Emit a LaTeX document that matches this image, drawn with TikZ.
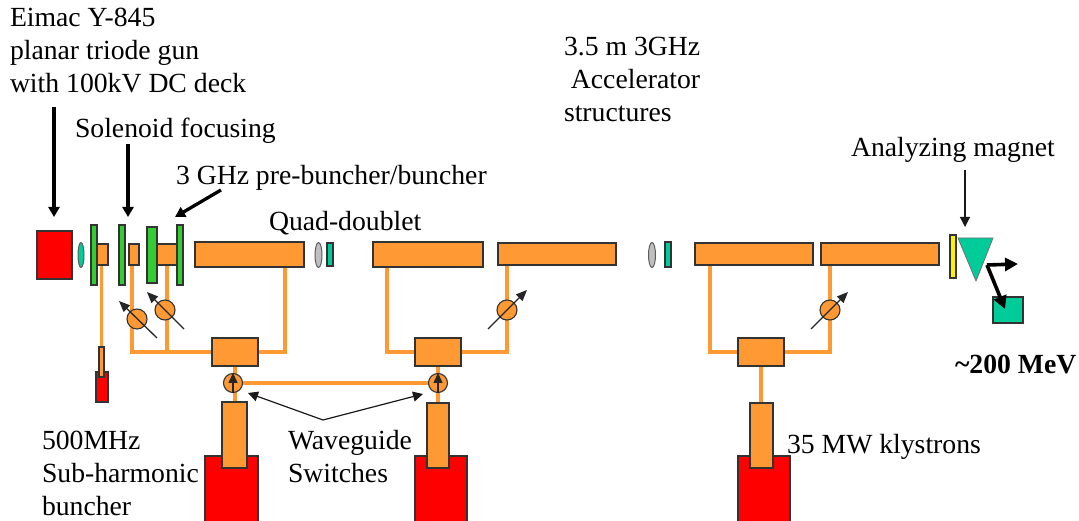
\documentclass[tikz,border=0pt]{standalone}
\usepackage{fontspec}
\setmainfont{Liberation Serif}
\usetikzlibrary{arrows.meta,calc,shapes.geometric}
\pgfdeclarelayer{bg}
\pgfsetlayers{bg,main}
\definecolor{wgorange}{HTML}{FF9933}
\definecolor{teal1}{HTML}{00CC99}
\definecolor{green1}{HTML}{33CC33}
\definecolor{edge1}{HTML}{333333}
\tikzset{
  part/.style={draw=edge1,line width=1.2pt,rectangle,inner sep=0pt,outer sep=0pt},
  orangebox/.style={part,fill=wgorange},
  redbox/.style={part,fill=red},
  greenbox/.style={part,fill=green1},
  tealbox/.style={part,fill=teal1},
  yellowbox/.style={part,fill=yellow},
  guide/.style={draw=wgorange,line width=3.4pt,line join=miter},
  lensg/.style={draw=edge1!80,line width=1pt,ellipse,fill=gray!50,inner sep=0pt,minimum width=7pt,minimum height=25pt},
  lenst/.style={draw=edge1!80,line width=1pt,ellipse,fill=teal1,inner sep=0pt,minimum width=6pt,minimum height=25pt},
  shifter/.style={draw=edge1,line width=1.1pt,circle,fill=wgorange,inner sep=0pt,minimum size=20pt},
  label/.style={inner sep=0pt,outer sep=0pt,align=left,font=\fontsize{27.7}{33}\selectfont,anchor=base west},
  adj/.style={-{Triangle[length=11pt,width=9pt]},draw=black!85,line width=1.3pt},
  swarrow/.style={-{Triangle[length=10pt,width=9pt]},draw=black!85,line width=1.3pt},
  call/.style={-{Triangle[length=10pt,width=10pt]},draw=black!90,line width=1.2pt},
  medcall/.style={-{Triangle[length=10pt,width=11pt]},draw=black,line width=3.3pt},
  bigcall/.style={-{Triangle[length=13pt,width=13pt]},draw=black,line width=3.6pt},
}
\newcommand{\bx}[6]{\node[#2,minimum width={(#5-#3)*1pt},minimum height={(#6-#4)*1pt}] (#1) at ({(#3+#5)/2},{(#4+#6)/2}) {};}
\begin{document}
\begin{tikzpicture}[x=1pt,y=-1pt]
\useasboundingbox (0,0) rectangle (1079,521);
% gun, lens
\bx{gun}{redbox}{37}{231}{72}{279}
\node[lenst] (lens0) at (81,255) {};
% short cavities and solenoids
\bx{cavA}{orangebox}{97}{244}{108}{265}
\bx{cavB}{orangebox}{129}{244}{139}{265}
\bx{cavC}{orangebox}{157}{244}{177}{265}
\bx{solA}{greenbox}{91}{225}{97}{285}
\bx{solB}{greenbox}{119}{225}{125}{285}
\bx{solC}{greenbox}{147}{227}{157}{283}
\bx{solD}{greenbox}{177}{225}{183}{285}
% accelerator structures
\bx{acc1}{orangebox}{195}{242}{304}{267}
\bx{acc2}{orangebox}{373}{242}{483}{267}
\bx{acc3}{orangebox}{498}{243}{616}{265}
\bx{acc4}{orangebox}{695}{243}{813}{265}
\bx{acc5}{orangebox}{821}{243}{939}{265}
% quads
\node[lensg] (qa1) at (318.5,255) {};
\bx{qa2}{tealbox}{327}{243}{333}{266}
\node[lensg] (qb1) at (652,255) {};
\bx{qb2}{tealbox}{665}{242}{671}{267}
% splitters
\bx{sp1}{orangebox}{212}{338}{258}{366}
\bx{sp2}{orangebox}{415}{338}{461}{366}
\bx{sp3}{orangebox}{738}{338}{784}{366}
% klystrons
\bx{red0}{redbox}{96}{372}{108}{402}
\bx{stub0}{orangebox}{99}{347}{104}{377}
\bx{kr1}{redbox}{205}{456}{258}{525}
\bx{kg1}{orangebox}{222}{402}{247}{468}
\bx{kr2}{redbox}{415}{456}{467}{525}
\bx{kg2}{orangebox}{427}{403}{449}{468}
\bx{kr3}{redbox}{738}{456}{790}{525}
\bx{kg3}{orangebox}{750}{403}{773}{468}
% guides
\begin{pgfonlayer}{bg}
\draw[guide] (stub0.north) -- (stub0.north |- cavA.south);
\draw[guide] ($(cavB.south)+(-2,0)$) |- (sp1.west);
\draw[guide] (cavC.south) -- (cavC.south |- sp1.west);
\draw[guide] ($(acc1.south east)+(-19,0)$) |- (sp1.east);
\draw[guide] ($(acc2.south west)+(14,0)$) |- (sp2.west);
\draw[guide] ($(acc3.south west)+(9,0)$) |- (sp2.east);
\draw[guide] ($(acc4.south west)+(15,0)$) |- (sp3.west);
\draw[guide] ($(acc5.south west)+(9,0)$) |- (sp3.east);
\draw[guide] (sp3.south) -- (sp3.south |- kg3.north);
\draw[guide] (sp1.south) -- (sp1.south |- kg1.north);
\draw[guide] (sp2.south) -- (sp2.south |- kg2.north);
\end{pgfonlayer}
% shifters
\node[shifter] (ps1) at (137,319) {};
\node[shifter] (ps2) at (165,310) {};
\node[shifter] (ps3) at (507,310) {};
\node[shifter] (ps4) at (830,310) {};
\coordinate (a1s) at (157,338); \coordinate (a1e) at (119,301);
\coordinate (a2s) at (184,329); \coordinate (a2e) at (147,292);
\coordinate (a3s) at (488,329); \coordinate (a3e) at (527,290);
\coordinate (a4s) at (811,329); \coordinate (a4e) at (848,292);
\draw[adj] (a1s) -- (a1e);
\draw[adj] (a2s) -- (a2e);
\draw[adj] (a3s) -- (a3e);
\draw[adj] (a4s) -- (a4e);
% switches
\node[shifter,minimum size=19pt] (sw1) at (233,383) {};
\node[shifter,minimum size=19pt] (sw2) at (438,383) {};
\begin{pgfonlayer}{bg}
\draw[guide] (sw1) -- (sw2);
\end{pgfonlayer}
\draw[swarrow] (sw1.south) -- (sw1.north);
\draw[swarrow] (sw2.south) -- (sw2.north);
% analyzer
\bx{yel}{yellowbox}{950}{235}{956}{278}
\path[fill=teal1,draw=edge1!70,line width=.8pt] (958,238) -- (993,238) -- (976,281) -- cycle;
\bx{dump}{tealbox}{993}{297}{1023}{323}
\coordinate (bend) at (987,265);
\coordinate (outr) at (1018,264);
\draw[bigcall] (bend) -- (outr);
\draw[bigcall] (bend) -- ($(dump.north west)+(12,12)$);
% labels
\node[label] (t1) at (10,93) {Eimac Y-845\\planar triode gun\\with 100kV DC deck};
\node[label] (t2) at (75,138) {Solenoid focusing};
\node[label] (t3) at (176,185) {3 GHz pre-buncher/buncher};
\node[label] (t4) at (269,231) {Quad-doublet};
\node[label] (t5) at (564,122) {3.5 m 3GHz\\\ Accelerator\\structures};
\node[label] (t6) at (851,157) {Analyzing magnet};
\node[label,font=\fontsize{27.7}{33}\selectfont\bfseries] (t7) at (955,373) {\textasciitilde200 MeV};
\node[label] (t8) at (42,515) {500MHz\\Sub-harmonic\\buncher};
\node[label] (t9) at (288,482) {Waveguide\\Switches};
\node[label] (t10) at (787,453) {35 MW klystrons};
% callouts
\coordinate (c1s) at (54,107); \coordinate (c1e) at (54,217);
\coordinate (c2s) at (128,144); \coordinate (c2e) at (128,217);
\coordinate (c3s) at (221,190); \coordinate (c3e) at (175,217);
\coordinate (c4s) at (965,170); \coordinate (c4e) at (965,227);
\coordinate (wgapex) at (323,420); \coordinate (wgl) at (248,393); \coordinate (wgr) at (423,394);
\draw[medcall] (c1s) -- (c1e);
\draw[medcall] (c2s) -- (c2e);
\draw[medcall] (c3s) -- (c3e);
\draw[call] (c4s) -- (c4e);
\draw[call] (wgapex) -- (wgl);
\draw[call] (wgapex) -- (wgr);
\end{tikzpicture}
\end{document}
